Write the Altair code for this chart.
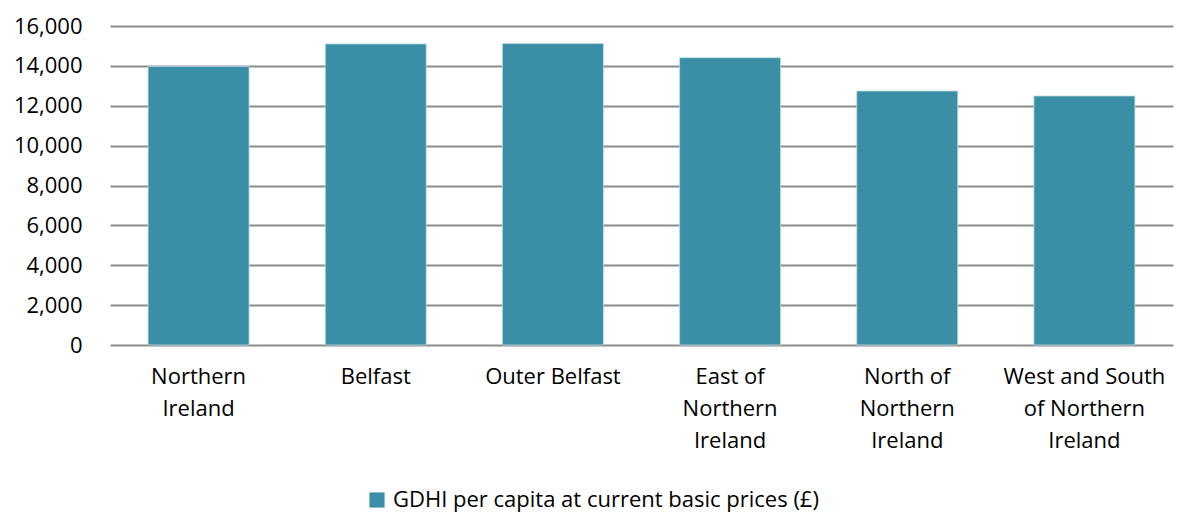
import altair as alt
import pandas as pd

categories = ["Northern Ireland", "Belfast", "Outer Belfast", "East of Northern Ireland",
              "North of Northern Ireland", "West and South of Northern Ireland"]
label_lines = [["Northern", "Ireland"], ["Belfast"], ["Outer Belfast"],
               ["East of", "Northern", "Ireland"], ["North of", "Northern", "Ireland"],
               ["West and South", "of Northern", "Ireland"]]
values = [13970, 15100, 15120, 14410, 12740, 12490]
y_ticks = [0, 2000, 4000, 6000, 8000, 10000, 12000, 14000, 16000]
series_name = "GDHI per capita at current basic prices (£)"

df = pd.DataFrame({"region": categories, "value": values, "series": series_name})

label_map = "{" + ",".join(
    "'%s': [%s]" % (c, ",".join("'%s'" % l for l in lines))
    for c, lines in zip(categories, label_lines)) + "}"

FONT = "Open Sans"
FS = 22

chart = alt.Chart(df).mark_bar(color="#3A8FA6", stroke="#BFDCE4", strokeWidth=0.8).encode(
    x=alt.X("region:N", sort=categories,
            scale=alt.Scale(paddingInner=0.43, paddingOuter=0.215),
            axis=alt.Axis(title=None, labelAngle=0, domain=False, ticks=False,
                          labelPadding=21, labelFont=FONT, labelFontSize=FS,
                          labelColor="#000000", labelLineHeight=32,
                          labelBaseline="top", labelLimit=300,
                          labelExpr=label_map + "[datum.label]")),
    y=alt.Y("value:Q", scale=alt.Scale(domain=[0, 16000], nice=False),
            axis=alt.Axis(title=None, values=y_ticks,
                          labelExpr="format(datum.value, ',.0f')",
                          domain=False, ticks=False, labelPadding=28,
                          labelFont=FONT, labelFontSize=FS, labelColor="#000000",
                          gridColor="#8C8C8C", gridWidth=2)),
    color=alt.Color("series:N", scale=alt.Scale(range=["#3A8FA6"]),
                    legend=alt.Legend(title=None, orient="none", legendX=256, legendY=463,
                                      symbolType="square", symbolSize=230,
                                      symbolStrokeWidth=0, labelOffset=5,
                                      labelFont=FONT, labelFontSize=FS,
                                      labelColor="#000000", labelLimit=800)),
).properties(
    width=1063, height=319,
    padding={"left": 102, "top": 18, "right": 5, "bottom": 172},
    autosize=alt.AutoSizeParams(type="none"),
).configure_view(stroke=None)

chart.save("out.html", embed_options={"renderer": "svg", "actions": False})
